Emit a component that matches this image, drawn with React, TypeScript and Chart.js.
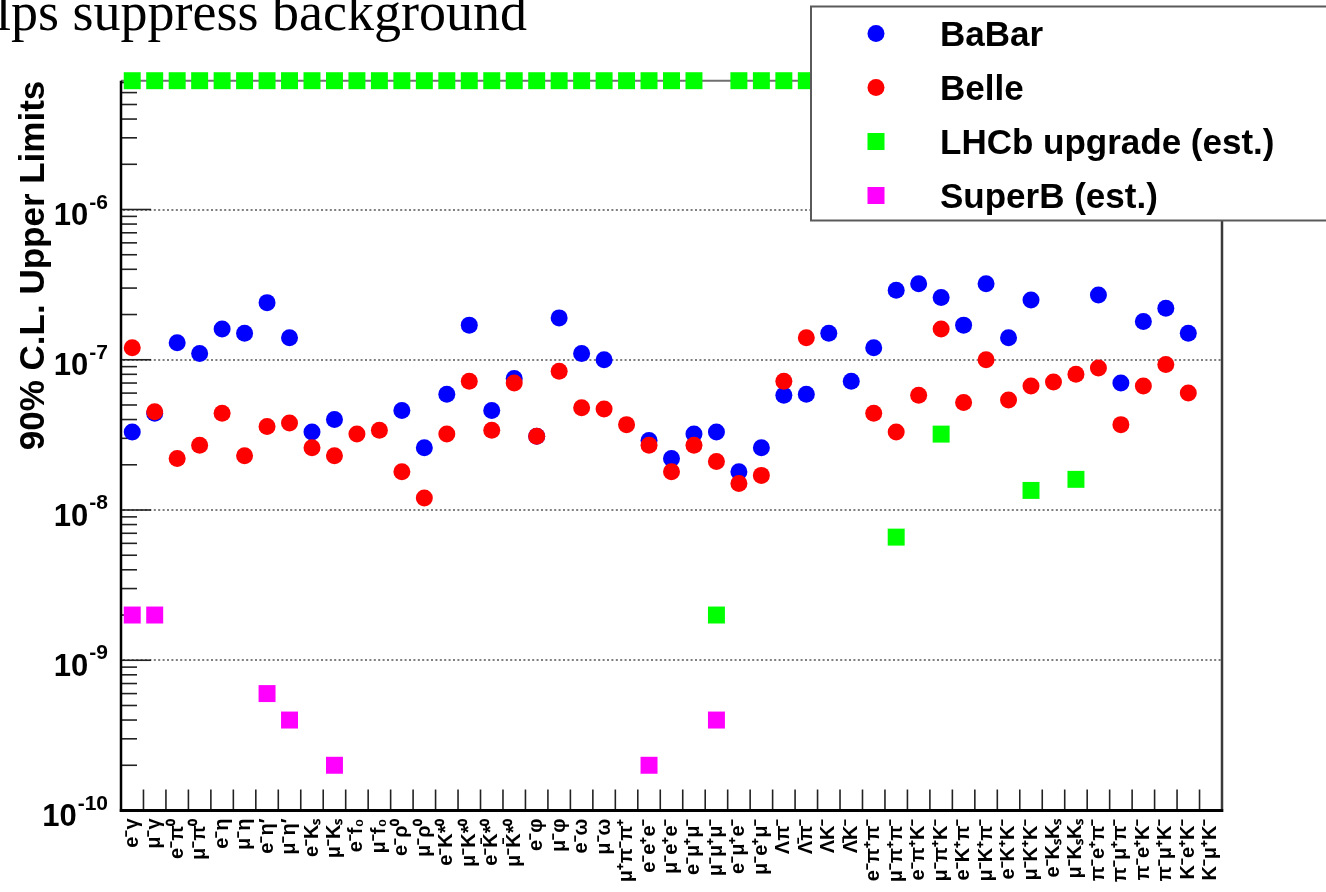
import React, { useEffect, useRef } from 'react';
import { Chart, registerables } from 'chart.js';

Chart.register(...registerables);

const categories: string[] = [
  'e⁻γ', 'μ⁻γ', 'e⁻π⁰', 'μ⁻π⁰', 'e⁻η', 'μ⁻η', 'e⁻η′', 'μ⁻η′', 'e⁻Kₛ', 'μ⁻Kₛ',
  'e⁻f₀', 'μ⁻f₀', 'e⁻ρ⁰', 'μ⁻ρ⁰', 'e⁻K*⁰', 'μ⁻K*⁰', 'e⁻K̄*⁰', 'μ⁻K̄*⁰', 'e⁻φ', 'μ⁻φ',
  'e⁻ω', 'μ⁻ω', 'μ⁺π⁻π⁺', 'e⁻e⁺e⁻', 'μ⁻e⁺e⁻', 'e⁻μ⁺μ⁻', 'μ⁻μ⁺μ⁻', 'e⁻μ⁺e⁻', 'μ⁻e⁺μ⁻',
  'Λπ⁻', 'Λ̄π⁻', 'ΛK⁻', 'Λ̄K⁻', 'e⁻π⁺π⁻', 'μ⁻π⁺π⁻', 'e⁻π⁺K⁻', 'μ⁻π⁺K⁻', 'e⁻K⁺π⁻', 'μ⁻K⁺π⁻',
  'e⁻K⁺K⁻', 'μ⁻K⁺K⁻', 'e⁻KₛKₛ', 'μ⁻KₛKₛ', 'π⁻e⁺π⁻', 'π⁻μ⁺π⁻', 'π⁻e⁺K⁻', 'π⁻μ⁺K⁻', 'K⁻e⁺K⁻', 'K⁻μ⁺K⁻',
];

const babar: (number | null)[] = [
  3.3e-8, 4.4e-8, 1.3e-7, 1.1e-7, 1.6e-7, 1.5e-7, 2.4e-7, 1.4e-7, 3.3e-8, 4.0e-8,
  null, null, 4.6e-8, 2.6e-8, 5.9e-8, 1.7e-7, 4.6e-8, 7.5e-8, 3.1e-8, 1.9e-7,
  1.1e-7, 1.0e-7, null, 2.9e-8, 2.2e-8, 3.2e-8, 3.3e-8, 1.8e-8, 2.6e-8,
  5.8e-8, 5.9e-8, 1.5e-7, 7.2e-8, 1.2e-7, 2.9e-7, 3.2e-7, 2.6e-7, 1.7e-7, 3.2e-7,
  1.4e-7, 2.5e-7, null, null, 2.7e-7, 7.0e-8, 1.8e-7, 2.2e-7, 1.5e-7, null,
];

const belle: (number | null)[] = [
  1.2e-7, 4.5e-8, 2.2e-8, 2.7e-8, 4.4e-8, 2.3e-8, 3.6e-8, 3.8e-8, 2.6e-8, 2.3e-8,
  3.2e-8, 3.4e-8, 1.8e-8, 1.2e-8, 3.2e-8, 7.2e-8, 3.4e-8, 7.0e-8, 3.1e-8, 8.4e-8,
  4.8e-8, 4.7e-8, 3.7e-8, 2.7e-8, 1.8e-8, 2.7e-8, 2.1e-8, 1.5e-8, 1.7e-8,
  7.2e-8, 1.4e-7, null, null, 4.4e-8, 3.3e-8, 5.8e-8, 1.6e-7, 5.2e-8, 1.0e-7,
  5.4e-8, 6.7e-8, 7.1e-8, 8.0e-8, 8.8e-8, 3.7e-8, 6.7e-8, 9.3e-8, 6.0e-8, null,
];

// modes without an estimate sit on the upper edge of the frame (7.2e-6)
const lhcb: (number | null)[] = [
  7.2e-6, 7.2e-6, 7.2e-6, 7.2e-6, 7.2e-6, 7.2e-6, 7.2e-6, 7.2e-6, 7.2e-6, 7.2e-6,
  7.2e-6, 7.2e-6, 7.2e-6, 7.2e-6, 7.2e-6, 7.2e-6, 7.2e-6, 7.2e-6, 7.2e-6, 7.2e-6,
  7.2e-6, 7.2e-6, 7.2e-6, 7.2e-6, 7.2e-6, 7.2e-6, 2.0e-9, 7.2e-6, 7.2e-6,
  7.2e-6, 7.2e-6, 7.2e-6, 7.2e-6, 7.2e-6, 6.6e-9, 7.2e-6, 3.2e-8, 7.2e-6, 7.2e-6,
  7.2e-6, 1.35e-8, 7.2e-6, 1.6e-8, 7.2e-6, 7.2e-6, 7.2e-6, 7.2e-6, 7.2e-6, null,
];

const superb: (number | null)[] = [
  2.0e-9, 2.0e-9, null, null, null, null, 6.0e-10, 4.0e-10, null, 2.0e-10,
  null, null, null, null, null, null, null, null, null, null,
  null, null, null, 2.0e-10, null, null, 4.0e-10, null, null,
  null, null, null, null, null, null, null, null, null, null,
  null, null, null, null, null, null, null, null, null, null,
];

const seriesNames = ['BaBar', 'Belle', 'LHCb upgrade (est.)', 'SuperB (est.)'];
const seriesColors = ['#0000ff', '#ff0000', '#00ff00', '#ff00ff'];

const yMin = 1e-10;
const yMax = 7.2e-6;
const yMajorTicks = [1e-10, 1e-9, 1e-8, 1e-7, 1e-6];
const yTitle = '90% C.L. Upper Limits';
const headline = 'helps suppress background';

const SANS = '"Liberation Sans", Arial, Helvetica, sans-serif';

const rootStylePlugin = {
  id: 'rootStyle',
  beforeDatasetsDraw(chart: any) {
    const { ctx, chartArea } = chart;
    const { left, right, top, bottom } = chartArea;
    const ys = chart.scales.y;
    const xs = chart.scales.x;
    ctx.save();

    // dotted grid at decades
    ctx.strokeStyle = '#7f7f7f';
    ctx.lineWidth = 2;
    ctx.setLineDash([2, 2.4]);
    for (const v of yMajorTicks) {
      if (v <= yMin) continue;
      const y = Math.round(ys.getPixelForValue(v));
      ctx.beginPath();
      ctx.moveTo(left + 2, y);
      ctx.lineTo(right, y);
      ctx.stroke();
    }
    ctx.setLineDash([]);

    // top frame line (grey)
    ctx.strokeStyle = '#6f6f6f';
    ctx.lineWidth = 2;
    ctx.beginPath();
    ctx.moveTo(left, top);
    ctx.lineTo(right, top);
    ctx.stroke();

    // right frame line
    ctx.strokeStyle = '#3a3a3a';
    ctx.lineWidth = 2.5;
    ctx.beginPath();
    ctx.moveTo(right, top);
    ctx.lineTo(right, bottom + 1.5);
    ctx.stroke();

    // y ticks (inward): minor at 2..9, major at decades
    ctx.strokeStyle = '#222';
    ctx.lineWidth = 1.6;
    for (let e = -10; e <= -6; e++) {
      for (let k = 1; k <= 9; k++) {
        const v = k * Math.pow(10, e);
        if (v < yMin || v > yMax * 1.0001) continue;
        const y = ys.getPixelForValue(v);
        const len = k === 1 ? 30 : 16;
        ctx.beginPath();
        ctx.moveTo(left, y);
        ctx.lineTo(left + len, y);
        ctx.stroke();
      }
    }

    // x ticks (inward) at category boundaries
    ctx.strokeStyle = '#222';
    ctx.lineWidth = 1.6;
    const n = categories.length;
    for (let i = 1; i < n; i++) {
      const x = (xs.getPixelForValue(i - 1) + xs.getPixelForValue(i)) / 2;
      ctx.beginPath();
      ctx.moveTo(x, bottom);
      ctx.lineTo(x, bottom - 21);
      ctx.stroke();
    }

    // axes (black)
    ctx.strokeStyle = '#000';
    ctx.lineWidth = 2.5;
    ctx.beginPath();
    ctx.moveTo(left, top);
    ctx.lineTo(left, bottom + 1.5);
    ctx.stroke();
    ctx.lineWidth = 3;
    ctx.beginPath();
    ctx.moveTo(left - 1.2, bottom);
    ctx.lineTo(right + 1.2, bottom);
    ctx.stroke();

    ctx.restore();
  },
  afterDraw(chart: any) {
    const { ctx } = chart;
    const ys = chart.scales.y;
    ctx.save();

    // y tick labels 10^n
    for (const v of yMajorTicks) {
      const y = ys.getPixelForValue(v);
      const exp = String(Math.round(Math.log10(v)));
      ctx.fillStyle = '#000';
      ctx.textBaseline = 'alphabetic';
      ctx.textAlign = 'left';
      ctx.font = `bold 31px ${SANS}`;
      const wBase = ctx.measureText('10').width;
      ctx.font = `bold 21px ${SANS}`;
      const wExp = ctx.measureText(exp).width;
      const xRight = 108;
      const xExp = xRight - wExp;
      const xBase = xExp - 1 - wBase;
      ctx.font = `bold 31px ${SANS}`;
      ctx.fillText('10', xBase, y + 15.5);
      ctx.font = `bold 21px ${SANS}`;
      ctx.fillText(exp, xExp, y - 1);
    }

    // legend box
    const bx = 811, by = 6.5, bw = 530, bh = 214;
    ctx.fillStyle = '#fff';
    ctx.fillRect(bx, by, bw, bh);
    ctx.strokeStyle = '#5a5a5a';
    ctx.lineWidth = 2;
    ctx.strokeRect(bx, by, bw, bh);

    const datasets = chart.data.datasets;
    datasets.forEach((ds: any, i: number) => {
      const my = 33.5 + 54 * i;
      const mx = 876;
      ctx.fillStyle = ds.backgroundColor;
      if (ds.pointStyle === 'rect') {
        ctx.fillRect(mx - 8.5, my - 8.5, 17, 17);
      } else {
        ctx.beginPath();
        ctx.arc(mx, my, 8.5, 0, Math.PI * 2);
        ctx.fill();
      }
      ctx.fillStyle = '#000';
      ctx.font = `bold 35px ${SANS}`;
      ctx.textAlign = 'left';
      ctx.textBaseline = 'alphabetic';
      ctx.fillText(ds.label, 940, my + 12.5);
    });

    ctx.restore();
  },
};

export default function App() {
  const canvasRef = useRef<HTMLCanvasElement | null>(null);

  useEffect(() => {
    if (!canvasRef.current) return;
    const mk = (
      label: string,
      data: (number | null)[],
      color: string,
      style: string,
      radius: number,
      order: number,
    ) => ({
      label,
      data,
      backgroundColor: color,
      borderColor: color,
      pointBackgroundColor: color,
      pointBorderColor: color,
      pointBorderWidth: 0,
      pointStyle: style,
      pointRadius: radius,
      pointHoverRadius: radius,
      showLine: false,
      clip: false as any,
      order,
    });

    const chart = new Chart(canvasRef.current, {
      type: 'line',
      data: {
        labels: categories,
        datasets: [
          mk(seriesNames[0], babar, seriesColors[0], 'circle', 8.5, 3),
          mk(seriesNames[1], belle, seriesColors[1], 'circle', 8.5, 2),
          mk(seriesNames[2], lhcb, seriesColors[2], 'rect', 12, 1),
          mk(seriesNames[3], superb, seriesColors[3], 'rect', 12, 0),
        ] as any,
      },
      options: {
        responsive: false,
        maintainAspectRatio: false,
        devicePixelRatio: 1,
        animation: false,
        events: [],
        layout: { padding: { top: 80.7, right: 104, bottom: 0, left: 0 } },
        plugins: {
          legend: { display: false },
          tooltip: { enabled: false },
          title: { display: false },
        },
        scales: {
          x: {
            type: 'category',
            offset: true,
            grid: { display: false, drawTicks: false },
            border: { display: false },
            ticks: {
              autoSkip: false,
              maxRotation: 90,
              minRotation: 90,
              padding: 8,
              color: '#000',
              font: { family: SANS, size: 20, weight: 'bold' },
            },
            afterFit: (s: any) => {
              s.height = 81.5;
            },
          },
          y: {
            type: 'logarithmic',
            min: yMin,
            max: yMax,
            grid: { display: false, drawTicks: false },
            border: { display: false },
            ticks: { display: false },
            title: {
              display: true,
              text: yTitle,
              align: 'end',
              color: '#000',
              font: { family: SANS, size: 35, weight: 'bold' },
              padding: { top: 13, bottom: 0 },
            },
            afterFit: (s: any) => {
              s.width = 121;
            },
          },
        },
      } as any,
      plugins: [rootStylePlugin],
    });
    return () => chart.destroy();
  }, []);

  return (
    <div
      style={{
        position: 'fixed',
        left: 0,
        top: 0,
        width: 1326,
        height: 892,
        background: '#fff',
        overflow: 'hidden',
      }}
    >
      <canvas
        ref={canvasRef}
        width={1326}
        height={892}
        style={{ position: 'absolute', left: 0, top: 0, width: 1326, height: 892 }}
      />
      <div
        style={{
          position: 'absolute',
          left: -55,
          top: -14,
          fontFamily: '"Liberation Serif", "Times New Roman", serif',
          fontSize: 54,
          lineHeight: '52px',
          whiteSpace: 'nowrap',
          color: '#000',
        }}
      >
        {headline}
      </div>
    </div>
  );
}
